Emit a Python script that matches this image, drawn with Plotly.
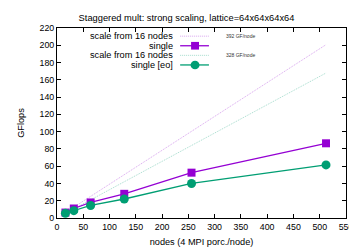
import plotly.graph_objects as go

nodes = [16, 32, 64, 128, 256, 512]
single = [6.3, 11, 18, 28, 52.5, 86.5]
single_eo = [5.5, 8.5, 14.5, 22, 40, 61.5]
scale_x = [16, 512]
scale_single = [6.27, 200.7]
scale_eo = [5.25, 167.9]

PURPLE = "#9400D3"
GREEN = "#009E73"
W, H = 357, 250
L, R, T, B = 49, 340, 20, 218
FONT = "Liberation Sans"

fig = go.Figure()
fig.add_trace(go.Scatter(x=scale_x, y=scale_single, mode="lines",
                         line=dict(color=PURPLE, width=1, dash="1px,1px"), opacity=0.35, showlegend=False))
fig.add_trace(go.Scatter(x=scale_x, y=scale_eo, mode="lines",
                         line=dict(color=GREEN, width=1, dash="1px,1px"), opacity=0.35, showlegend=False))
fig.add_trace(go.Scatter(x=nodes, y=single, mode="lines+markers",
                         line=dict(color=PURPLE, width=1.3),
                         marker=dict(symbol="square", size=8, color=PURPLE), showlegend=False))
fig.add_trace(go.Scatter(x=nodes, y=single_eo, mode="lines+markers",
                         line=dict(color=GREEN, width=1.3),
                         marker=dict(symbol="circle", size=9, color=GREEN), showlegend=False))

def px(x):
    return (x - L) / (R - L)

def py(y):
    return (B - y) / (B - T)

# manual gnuplot-style legend
rows = [
    ("scale from 16 nodes", PURPLE, "dot", None, 28.5, "392 GF/node"),
    ("single", PURPLE, "solid", "square", 38.5, None),
    ("scale from 16 nodes", GREEN, "dot", None, 48.5, "328 GF/node"),
    ("single [eo]", GREEN, "solid", "circle", 58.5, None),
]
shapes = []
annotations = []
for label, col, dash, sym, y, note in rows:
    annotations.append(dict(x=px(168), y=py(y), xref="paper", yref="paper", text=label,
                            showarrow=False, xanchor="right", yanchor="middle",
                            font=dict(family=FONT, size=9.2, color="#000")))
    shapes.append(dict(type="line", xref="paper", yref="paper", x0=px(173), x1=px(202),
                       y0=py(y), y1=py(y),
                       line=dict(color=col, width=1 if dash == "dot" else 1.3,
                                 dash="1px,1px" if dash == "dot" else "solid"),
                       opacity=0.35 if dash == "dot" else 1))
    if sym == "square":
        shapes.append(dict(type="rect", xref="paper", yref="paper", x0=px(184), x1=px(192),
                           y0=py(y + 4), y1=py(y - 4), fillcolor=col, line=dict(width=0)))
    elif sym == "circle":
        shapes.append(dict(type="circle", xref="paper", yref="paper", x0=px(183.5), x1=px(192.5),
                           y0=py(y + 4.5), y1=py(y - 4.5), fillcolor=col, line=dict(width=0)))
    if note:
        annotations.append(dict(x=px(217), y=py(y), xref="paper", yref="paper", text=note,
                                showarrow=False, xanchor="left", yanchor="middle",
                                font=dict(family=FONT, size=5, color="#333")))

axis_common = dict(showgrid=False, zeroline=False, showline=True, linecolor="black", linewidth=1,
                   mirror="ticks", ticks="inside", ticklen=4, tickcolor="black",
                   tickfont=dict(family=FONT, size=8.8, color="black"))

fig.update_layout(
    width=W, height=H,
    margin=dict(l=L, r=W - R, t=T, b=H - B),
    plot_bgcolor="white", paper_bgcolor="white",
    title=dict(text="Staggered mult: strong scaling, lattice=64x64x64x64", x=0.5, xanchor="center",
               y=1 - 10 / H, yanchor="middle", font=dict(family=FONT, size=9.3, color="black")),
    xaxis=dict(range=[0, 550], tickvals=list(range(0, 551, 50)), **axis_common,
               title=dict(text="nodes (4 MPI porc./node)", standoff=8,
                          font=dict(family=FONT, size=9.2, color="black"))),
    yaxis=dict(range=[0, 220], tickvals=list(range(0, 221, 20)), **axis_common,
               title=dict(text="GFlops", standoff=13, font=dict(family=FONT, size=9.2, color="black"))),
    shapes=shapes, annotations=annotations, showlegend=False,
)

fig.write_html("out.html")
